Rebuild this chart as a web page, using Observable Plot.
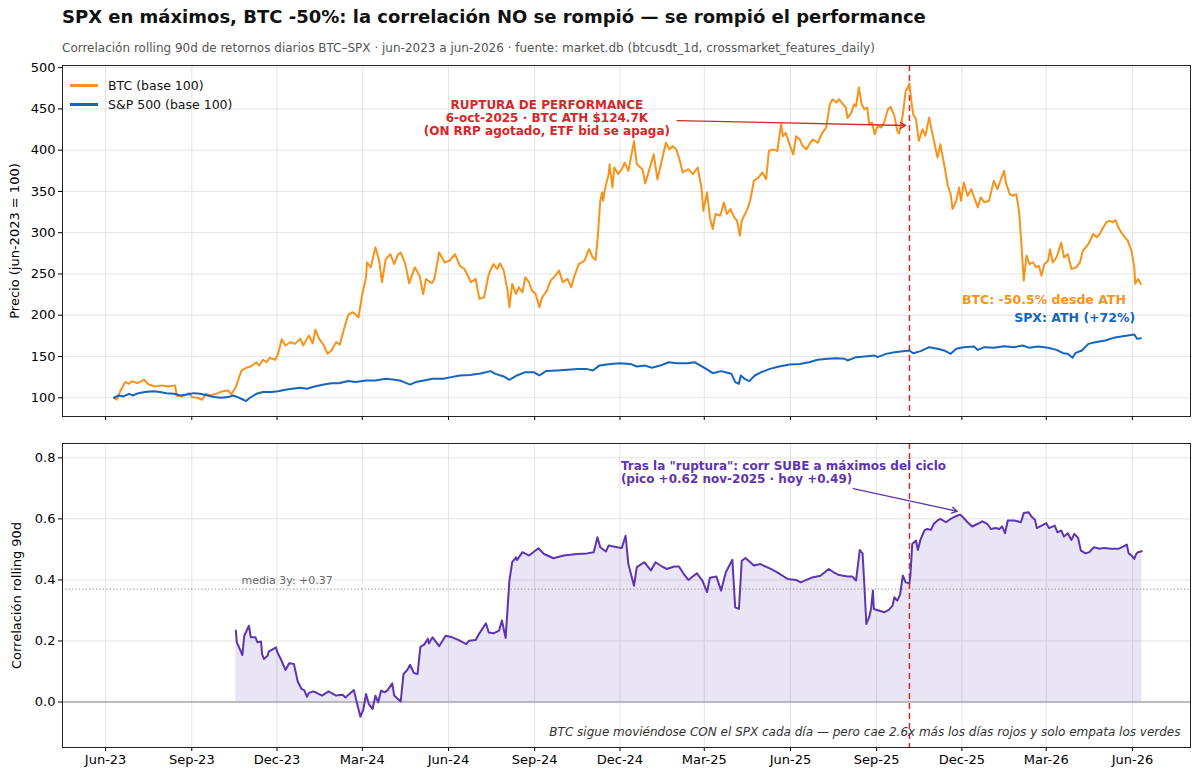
<!DOCTYPE html>
<html><head><meta charset="utf-8">
<script src="https://cdn.jsdelivr.net/npm/d3@7"></script>
<script src="https://cdn.jsdelivr.net/npm/@observablehq/plot@0.6"></script>
<style>
body{margin:0;background:#fff;font-family:"DejaVu Sans",sans-serif;}
#wrap{position:relative;width:1200px;height:778px;overflow:hidden;background:#fff;}
#title{position:absolute;left:62px;top:6px;font-size:18px;font-weight:bold;color:#111;white-space:nowrap;}
#subtitle{position:absolute;left:62px;top:41px;font-size:12px;color:#555;white-space:nowrap;}
#top{position:absolute;left:0;top:58px;}
#bottom{position:absolute;left:0;top:430px;}
#legend{position:absolute;left:70px;top:76px;font-size:12.5px;color:#111;}
#legend .row{display:flex;align-items:center;height:19px;}
#legend .sw{display:inline-block;width:28px;height:2.5px;margin-right:10px;}
</style></head>
<body>
<div id="wrap">
  <div id="title">SPX en máximos, BTC -50%: la correlación NO se rompió — se rompió el performance</div>
  <div id="subtitle">Correlación rolling 90d de retornos diarios BTC–SPX · jun-2023 a jun-2026 · fuente: market.db (btcusdt_1d, crossmarket_features_daily)</div>
  <div id="top"></div>
  <div id="bottom"></div>
  <div id="legend"></div>
</div>
<script>
// ---------- data ----------
const btcDates = ["2023-06-10","2023-06-13","2023-06-17","2023-06-22","2023-06-26","2023-06-29","2023-07-05","2023-07-12","2023-07-17","2023-07-24","2023-07-31","2023-08-07","2023-08-14","2023-08-16","2023-08-22","2023-08-29","2023-09-01","2023-09-07","2023-09-12","2023-09-16","2023-09-21","2023-09-29","2023-10-04","2023-10-10","2023-10-13","2023-10-18","2023-10-24","2023-10-29","2023-11-03","2023-11-09","2023-11-12","2023-11-16","2023-11-20","2023-11-23","2023-11-29","2023-12-02","2023-12-06","2023-12-10","2023-12-15","2023-12-20","2023-12-26","2023-12-29","2024-01-04","2024-01-08","2024-01-11","2024-01-15","2024-01-20","2024-01-24","2024-01-28","2024-02-02","2024-02-06","2024-02-11","2024-02-15","2024-02-20","2024-02-26","2024-03-01","2024-03-05","2024-03-06","2024-03-10","2024-03-15","2024-03-19","2024-03-22","2024-03-26","2024-03-31","2024-04-04","2024-04-08","2024-04-11","2024-04-16","2024-04-20","2024-04-26","2024-05-01","2024-05-05","2024-05-08","2024-05-14","2024-05-17","2024-05-22","2024-05-28","2024-06-02","2024-06-08","2024-06-13","2024-06-18","2024-06-25","2024-06-30","2024-07-04","2024-07-09","2024-07-14","2024-07-19","2024-07-23","2024-07-26","2024-07-30","2024-08-03","2024-08-05","2024-08-08","2024-08-12","2024-08-15","2024-08-19","2024-08-22","2024-08-26","2024-08-29","2024-09-02","2024-09-06","2024-09-09","2024-09-14","2024-09-18","2024-09-23","2024-09-27","2024-10-01","2024-10-06","2024-10-10","2024-10-13","2024-10-18","2024-10-24","2024-10-29","2024-11-02","2024-11-05","2024-11-07","2024-11-10","2024-11-12","2024-11-13","2024-11-15","2024-11-19","2024-11-20","2024-11-23","2024-11-25","2024-11-29","2024-12-03","2024-12-06","2024-12-10","2024-12-16","2024-12-19","2024-12-25","2024-12-28","2025-01-03","2025-01-06","2025-01-10","2025-01-15","2025-01-19","2025-01-23","2025-01-26","2025-01-30","2025-02-02","2025-02-06","2025-02-12","2025-02-17","2025-02-22","2025-02-26","2025-02-28","2025-03-04","2025-03-07","2025-03-10","2025-03-13","2025-03-18","2025-03-22","2025-03-25","2025-03-29","2025-04-02","2025-04-05","2025-04-08","2025-04-10","2025-04-16","2025-04-19","2025-04-23","2025-04-28","2025-05-02","2025-05-06","2025-05-09","2025-05-13","2025-05-18","2025-05-22","2025-05-24","2025-05-27","2025-05-31","2025-06-04","2025-06-07","2025-06-11","2025-06-14","2025-06-18","2025-06-21","2025-06-25","2025-06-30","2025-07-05","2025-07-09","2025-07-13","2025-07-16","2025-07-20","2025-07-23","2025-07-27","2025-07-30","2025-08-01","2025-08-05","2025-08-08","2025-08-10","2025-08-13","2025-08-16","2025-08-19","2025-08-22","2025-08-24","2025-08-27","2025-08-30","2025-09-02","2025-09-06","2025-09-09","2025-09-13","2025-09-16","2025-09-20","2025-09-23","2025-09-25","2025-09-29","2025-10-02","2025-10-05","2025-10-06","2025-10-08","2025-10-10","2025-10-13","2025-10-16","2025-10-20","2025-10-23","2025-10-27","2025-10-31","2025-11-05","2025-11-08","2025-11-12","2025-11-16","2025-11-19","2025-11-21","2025-11-25","2025-11-28","2025-11-30","2025-12-03","2025-12-07","2025-12-11","2025-12-14","2025-12-18","2025-12-21","2025-12-25","2025-12-30","2026-01-04","2026-01-08","2026-01-11","2026-01-15","2026-01-17","2026-01-21","2026-01-24","2026-01-28","2026-01-31","2026-02-02","2026-02-05","2026-02-08","2026-02-11","2026-02-15","2026-02-18","2026-02-21","2026-02-24","2026-02-27","2026-03-03","2026-03-05","2026-03-08","2026-03-12","2026-03-17","2026-03-20","2026-03-24","2026-03-28","2026-04-02","2026-04-06","2026-04-09","2026-04-15","2026-04-20","2026-04-24","2026-04-27","2026-05-01","2026-05-04","2026-05-08","2026-05-11","2026-05-14","2026-05-17","2026-05-20","2026-05-24","2026-05-27","2026-05-31","2026-06-03","2026-06-04","2026-06-07","2026-06-10"];
const btcValues = [100,97.6,108.9,119,117,120,117.7,121.8,116,113.7,115,113.7,115,102.8,101.6,105.6,100.8,100,97.6,104.8,102.8,105.6,108,108.9,104,112.9,133,136.3,137.9,143,139,146,143,148.4,146,153,171,163.3,167.3,165.3,171.4,163.3,175.4,166,182.3,171.4,163.3,153.2,157.3,167.3,164.5,185.5,200.8,203.6,197.6,225.8,246,264,258,282.3,266,240,268,274,262,273.4,276,262,238.7,258,248,225.8,244,238.7,244,276,264,266,274,260,256,240,244,219.8,221.8,250,262,256,263,254,229.8,209.7,238,225.8,233.9,227.8,246,240,229.8,225.8,209.7,221.8,229.8,242,248,254,240,244,233.9,246,262,266,280,270,267,290,338.7,348.8,338.7,352.8,371,383,354.8,379,371,377,385,375,411,383,377,359.7,383,395,364.8,389,409,401,405,401,391,373,377,371,379,354.8,326.6,348.8,318.5,304.4,322.6,320.6,336.7,322.6,328.6,318.5,314.5,296.4,314.5,328.6,338.7,362.9,367,373,364.8,399,401,399,431.5,417,421,407,395,417,413,405,401,407,413,409,421,427,455.6,461.7,457.7,461.7,455.6,452,439,445.5,455.6,453,476,455.6,449.6,451.6,431.5,433.5,419.4,429.4,427.4,433.5,449.6,452.4,441.5,423.4,420.2,443.5,471.8,477.8,481,459.7,443.5,437.5,411.3,425.4,417.3,439.5,417.3,391,407.3,383,356.9,346.8,328.6,338.7,354.8,338.7,360.9,344.8,352.8,342.7,330.6,342.7,336.7,338.7,362.9,352.8,362.9,375,360.9,346.8,344.8,346.8,326.6,294.4,242,272.2,262.1,264,258,260,248,262.1,266,280,264,270,288,270,274,256,258,264,278,286,298.4,294.4,298.4,306.5,312.5,314.5,312.5,315.3,306.5,300.4,294.4,290.3,278,258,238,244,238];

const spxDates = ["2023-06-10","2023-06-15","2023-06-20","2023-06-26","2023-06-30","2023-07-06","2023-07-13","2023-07-22","2023-07-29","2023-08-05","2023-08-13","2023-08-20","2023-08-27","2023-09-03","2023-09-10","2023-09-18","2023-09-25","2023-10-02","2023-10-10","2023-10-15","2023-10-20","2023-10-26","2023-10-29","2023-11-02","2023-11-09","2023-11-16","2023-11-25","2023-12-02","2023-12-10","2023-12-17","2023-12-26","2024-01-02","2024-01-10","2024-01-20","2024-01-28","2024-02-05","2024-02-15","2024-02-23","2024-03-05","2024-03-15","2024-03-26","2024-04-05","2024-04-12","2024-04-21","2024-04-27","2024-05-06","2024-05-15","2024-05-26","2024-06-04","2024-06-13","2024-06-24","2024-07-05","2024-07-16","2024-07-21","2024-07-30","2024-08-05","2024-08-13","2024-08-22","2024-08-31","2024-09-06","2024-09-13","2024-09-25","2024-10-06","2024-10-17","2024-10-26","2024-11-02","2024-11-09","2024-11-21","2024-12-01","2024-12-12","2024-12-19","2024-12-28","2025-01-04","2025-01-13","2025-01-22","2025-01-31","2025-02-11","2025-02-19","2025-02-25","2025-03-03","2025-03-10","2025-03-19","2025-03-30","2025-04-03","2025-04-07","2025-04-09","2025-04-13","2025-04-18","2025-04-24","2025-05-01","2025-05-10","2025-05-20","2025-05-31","2025-06-11","2025-06-21","2025-06-30","2025-07-11","2025-07-20","2025-07-29","2025-08-01","2025-08-10","2025-08-19","2025-08-30","2025-09-02","2025-09-11","2025-09-20","2025-09-29","2025-10-06","2025-10-10","2025-10-18","2025-10-27","2025-11-05","2025-11-12","2025-11-19","2025-11-25","2025-12-03","2025-12-14","2025-12-18","2025-12-25","2026-01-04","2026-01-15","2026-01-26","2026-02-04","2026-02-11","2026-02-20","2026-03-03","2026-03-12","2026-03-19","2026-03-24","2026-03-29","2026-04-01","2026-04-08","2026-04-15","2026-04-22","2026-05-03","2026-05-12","2026-05-20","2026-05-27","2026-06-03","2026-06-06","2026-06-10"];
const spxValues = [100,102.8,101.6,104.8,102.8,105.6,106.9,108,106.9,105.6,104.8,102.8,104,105.6,104.8,102.8,100.8,100,100.8,102.8,100.8,97.6,96,100,104.8,106.9,106.9,108,109.7,110.9,112.1,110.9,113.7,116,117.7,117.7,120.2,119,121,121,123,121.8,120.2,116,119,121,123,123,125,127,127.5,129.5,132.3,129,125.8,121.8,127,131,131,127,132.3,133,133.9,135,135,133,139,141,141.9,141,137.9,139,136.3,139,143,141.9,141.9,143,139,135,129.8,132.3,129,119,117,127,123,120.2,127,131,135,137.9,140.3,141,143,146,147.2,148,147.2,145.2,149.2,150,151.2,149.2,153.2,155.2,156.5,157.3,154,156.5,161.3,159.3,157.3,153.2,159.3,161.3,162.1,158,161.3,160.5,162.5,161.3,163.3,160.5,162.1,160.5,158,154,153.2,148.4,154,157.3,165.3,167.3,169.3,172.6,174.2,175.4,176.6,171.4,172.2];

const corrDates = ["2023-10-18","2023-10-19","2023-10-25","2023-10-27","2023-11-01","2023-11-03","2023-11-08","2023-11-10","2023-11-14","2023-11-15","2023-11-17","2023-11-21","2023-11-22","2023-11-30","2023-12-01","2023-12-05","2023-12-10","2023-12-14","2023-12-19","2023-12-23","2023-12-27","2023-12-30","2024-01-02","2024-01-04","2024-01-09","2024-01-18","2024-01-25","2024-02-02","2024-02-09","2024-02-12","2024-02-21","2024-02-25","2024-02-28","2024-03-02","2024-03-05","2024-03-08","2024-03-12","2024-03-15","2024-03-18","2024-03-21","2024-03-25","2024-03-28","2024-04-02","2024-04-04","2024-04-11","2024-04-14","2024-04-18","2024-04-21","2024-04-25","2024-04-29","2024-05-02","2024-05-06","2024-05-10","2024-05-11","2024-05-15","2024-05-22","2024-05-29","2024-06-05","2024-06-12","2024-06-20","2024-06-23","2024-06-30","2024-07-04","2024-07-11","2024-07-14","2024-07-19","2024-07-25","2024-07-28","2024-08-01","2024-08-05","2024-08-08","2024-08-12","2024-08-13","2024-08-19","2024-08-26","2024-09-05","2024-09-11","2024-09-21","2024-10-02","2024-10-16","2024-10-27","2024-11-03","2024-11-07","2024-11-10","2024-11-16","2024-11-19","2024-11-28","2024-12-03","2024-12-07","2024-12-10","2024-12-16","2024-12-19","2024-12-27","2025-01-03","2025-01-08","2025-01-15","2025-01-20","2025-01-28","2025-02-02","2025-02-07","2025-02-12","2025-02-21","2025-02-27","2025-03-04","2025-03-07","2025-03-14","2025-03-19","2025-03-24","2025-03-31","2025-04-03","2025-04-07","2025-04-10","2025-04-14","2025-04-23","2025-04-30","2025-05-11","2025-05-18","2025-05-29","2025-06-07","2025-06-12","2025-06-23","2025-07-03","2025-07-12","2025-07-17","2025-07-23","2025-08-01","2025-08-06","2025-08-10","2025-08-14","2025-08-17","2025-08-19","2025-08-21","2025-08-24","2025-08-26","2025-08-28","2025-08-29","2025-09-04","2025-09-09","2025-09-14","2025-09-18","2025-09-20","2025-09-23","2025-09-26","2025-09-29","2025-10-02","2025-10-06","2025-10-07","2025-10-09","2025-10-13","2025-10-15","2025-10-18","2025-10-22","2025-10-25","2025-10-29","2025-11-01","2025-11-05","2025-11-08","2025-11-14","2025-11-19","2025-11-24","2025-11-29","2025-12-03","2025-12-07","2025-12-12","2025-12-18","2025-12-23","2025-12-28","2026-01-01","2026-01-06","2026-01-10","2026-01-13","2026-01-16","2026-01-19","2026-01-26","2026-02-02","2026-02-05","2026-02-10","2026-02-14","2026-02-17","2026-02-19","2026-02-24","2026-03-01","2026-03-04","2026-03-10","2026-03-13","2026-03-17","2026-03-20","2026-03-24","2026-03-28","2026-03-31","2026-04-04","2026-04-07","2026-04-12","2026-04-16","2026-04-21","2026-04-27","2026-05-02","2026-05-09","2026-05-17","2026-05-22","2026-05-26","2026-05-28","2026-05-31","2026-06-03","2026-06-05","2026-06-07","2026-06-11"];
const corrValues = [0.234,0.196,0.154,0.217,0.250,0.212,0.212,0.196,0.198,0.157,0.141,0.152,0.165,0.179,0.165,0.141,0.105,0.127,0.125,0.068,0.043,0.039,0.017,0.030,0.035,0.021,0.035,0.021,0.024,0.015,0.039,-0.012,-0.048,-0.026,0.026,-0.007,-0.023,0.021,-0.001,0.037,0.032,0.039,0.061,0.021,0.002,0.092,0.105,0.122,0.095,0.092,0.181,0.188,0.207,0.192,0.212,0.183,0.217,0.212,0.203,0.190,0.201,0.203,0.225,0.258,0.228,0.225,0.234,0.267,0.210,0.398,0.458,0.474,0.465,0.491,0.480,0.504,0.485,0.471,0.480,0.485,0.487,0.491,0.540,0.507,0.493,0.513,0.507,0.505,0.545,0.452,0.381,0.442,0.458,0.431,0.458,0.444,0.436,0.444,0.444,0.420,0.400,0.422,0.398,0.360,0.407,0.411,0.365,0.425,0.466,0.310,0.305,0.463,0.472,0.447,0.452,0.436,0.425,0.403,0.400,0.392,0.407,0.414,0.436,0.425,0.416,0.411,0.411,0.398,0.498,0.487,0.376,0.256,0.278,0.305,0.365,0.305,0.299,0.294,0.302,0.316,0.343,0.332,0.352,0.414,0.392,0.389,0.414,0.518,0.529,0.498,0.534,0.562,0.567,0.564,0.584,0.595,0.600,0.589,0.600,0.608,0.614,0.603,0.589,0.575,0.584,0.592,0.584,0.567,0.570,0.567,0.575,0.553,0.595,0.595,0.589,0.619,0.622,0.605,0.597,0.570,0.578,0.586,0.570,0.578,0.556,0.562,0.542,0.553,0.531,0.551,0.538,0.496,0.487,0.491,0.507,0.502,0.505,0.502,0.502,0.509,0.516,0.487,0.480,0.469,0.485,0.491,0.494];

const xTickDates = ["2023-06-01","2023-09-01","2023-12-01","2024-03-01","2024-06-01","2024-09-01","2024-12-01","2025-03-01","2025-06-01","2025-09-01","2025-12-01","2026-03-01","2026-06-01"];
const topYTicks = [100,150,200,250,300,350,400,450,500];
const bottomYTicks = [0,0.2,0.4,0.6,0.8];
const athDate = "2025-10-06";
const corrMean = 0.37;

// annotations (anchored in data coordinates)
const redNote = {date:"2024-09-14", v:439.5, text:"RUPTURA DE PERFORMANCE\n6-oct-2025 · BTC ATH $124.7K\n(ON RRP agotado, ETF bid se apaga)"};
const redArrow = {d1:"2025-01-31", v1:435.9, d2:"2025-10-02", v2:429.9};
const btcNote = {date:"2026-05-25", v:217.9, text:"BTC: -50.5% desde ATH"};
const spxNote = {date:"2026-06-04", v:196.4, text:"SPX: ATH (+72%)"};
const purpleNote = {date:"2024-12-02", v:0.752, text:"Tras la \"ruptura\": corr SUBE a máximos del ciclo\n(pico +0.62 nov-2025 · hoy +0.49)"};
const purpleArrow = {d1:"2025-08-07", v1:0.699, d2:"2025-11-26", v2:0.625};
const meanNote = {date:"2023-10-24", v:0.398, text:"media 3y: +0.37"};
const caption = "BTC sigue moviéndose CON el SPX cada día — pero cae 2.6x más los días rojos y solo empata los verdes";

// ---------- build ----------
const parse = d3.utcParse("%Y-%m-%d");
const ORANGE = "#f7931a", BLUE = "#1565c0", PURPLE = "#5e35b1", RED = "#d62728";
const btc = btcDates.map((d,i)=>({date:parse(d), v:btcValues[i]}));
const spx = spxDates.map((d,i)=>({date:parse(d), v:spxValues[i]}));
const corr = corrDates.map((d,i)=>({date:parse(d), v:corrValues[i]}));
const xTicks = xTickDates.map(parse);
const xDomain = [parse("2023-04-16"), parse("2026-08-02")];
const GRID = "#e4e4e4";
const FONT = "DejaVu Sans";

const topPlot = Plot.plot({
  width:1200, height:372,
  marginLeft:62, marginRight:10, marginTop:7, marginBottom:14,
  style:{fontSize:"13px", fontFamily:FONT, color:"#000", background:"transparent", overflow:"visible"},
  x:{type:"utc", domain:xDomain},
  y:{domain:[77.3, 502.6]},
  marks:[
    Plot.gridX(xTicks, {stroke:GRID, strokeOpacity:1}),
    Plot.gridY(topYTicks, {stroke:GRID, strokeOpacity:1}),
    Plot.ruleX([parse(athDate)], {stroke:RED, strokeWidth:1.5, strokeDasharray:"6,4"}),
    Plot.lineY(btc, {x:"date", y:"v", stroke:ORANGE, strokeWidth:2}),
    Plot.lineY(spx, {x:"date", y:"v", stroke:BLUE, strokeWidth:2}),
    Plot.text([redNote], {x:d=>parse(d.date), y:"v", text:"text", fill:RED, fontWeight:"bold", fontSize:12, textAnchor:"middle", lineAnchor:"middle", lineHeight:1.1}),
    Plot.arrow([redArrow], {x1:d=>parse(d.d1), y1:"v1", x2:d=>parse(d.d2), y2:"v2", stroke:RED, strokeWidth:1.3, headLength:7}),
    Plot.text([btcNote], {x:d=>parse(d.date), y:"v", text:"text", fill:ORANGE, fontWeight:"bold", fontSize:12.5, textAnchor:"end", lineAnchor:"middle"}),
    Plot.text([spxNote], {x:d=>parse(d.date), y:"v", text:"text", fill:BLUE, fontWeight:"bold", fontSize:12.5, textAnchor:"end", lineAnchor:"middle"}),
    Plot.axisY(topYTicks, {tickSize:4, tickPadding:3, label:"Precio (jun-2023 = 100)", labelAnchor:"center", labelArrow:"none", labelOffset:53}),
    Plot.axisX(xTicks, {tickSize:4, tickFormat:()=>"", label:null}),
    Plot.frame({stroke:"#222", strokeWidth:1})
  ]
});
document.getElementById("top").appendChild(topPlot);

const bottomPlot = Plot.plot({
  width:1200, height:348,
  marginLeft:62, marginRight:10, marginTop:13, marginBottom:31,
  style:{fontSize:"13px", fontFamily:FONT, color:"#000", background:"transparent", overflow:"visible"},
  x:{type:"utc", domain:xDomain},
  y:{domain:[-0.149, 0.847]},
  marks:[
    Plot.gridX(xTicks, {stroke:GRID, strokeOpacity:1}),
    Plot.gridY(bottomYTicks, {stroke:GRID, strokeOpacity:1}),
    Plot.areaY(corr, {x:"date", y:"v", fill:PURPLE, fillOpacity:0.13}),
    Plot.ruleY([0], {stroke:"#888", strokeWidth:1.2}),
    Plot.ruleY([corrMean], {stroke:"#888", strokeWidth:1, strokeDasharray:"1.2,2.2"}),
    Plot.ruleX([parse(athDate)], {stroke:RED, strokeWidth:1.5, strokeDasharray:"6,4"}),
    Plot.lineY(corr, {x:"date", y:"v", stroke:PURPLE, strokeWidth:2}),
    Plot.text([meanNote], {x:d=>parse(d.date), y:"v", text:"text", fill:"#666", fontSize:11, textAnchor:"start", lineAnchor:"middle"}),
    Plot.text([purpleNote], {x:d=>parse(d.date), y:"v", text:"text", fill:PURPLE, fontWeight:"bold", fontSize:12, textAnchor:"start", lineAnchor:"middle", lineHeight:1.05}),
    Plot.arrow([purpleArrow], {x1:d=>parse(d.d1), y1:"v1", x2:d=>parse(d.d2), y2:"v2", stroke:PURPLE, strokeWidth:1.3, headLength:7}),
    Plot.text([caption], {frameAnchor:"bottom-right", text:d=>d, dx:-10, dy:-15.5, lineAnchor:"middle", textAnchor:"end", fontStyle:"italic", fontSize:12, fill:"#333"}),
    Plot.axisY(bottomYTicks, {tickSize:4, tickPadding:3, tickFormat:d3.format(".1f"), label:"Correlación rolling 90d", labelAnchor:"center", labelArrow:"none", labelOffset:51}),
    Plot.axisX(xTicks, {tickSize:4, tickPadding:3, tickFormat:d3.utcFormat("%b-%y"), label:null}),
    Plot.frame({stroke:"#222", strokeWidth:1})
  ]
});
document.getElementById("bottom").appendChild(bottomPlot);

// legend
const legendItems = [{label:"BTC (base 100)", color:ORANGE},{label:"S&P 500 (base 100)", color:BLUE}];
const lg = document.getElementById("legend");
legendItems.forEach(it=>{
  const row = document.createElement("div"); row.className="row";
  const sw = document.createElement("span"); sw.className="sw"; sw.style.background=it.color;
  const tx = document.createElement("span"); tx.textContent=it.label;
  row.appendChild(sw); row.appendChild(tx); lg.appendChild(row);
});
</script>
</body></html>
